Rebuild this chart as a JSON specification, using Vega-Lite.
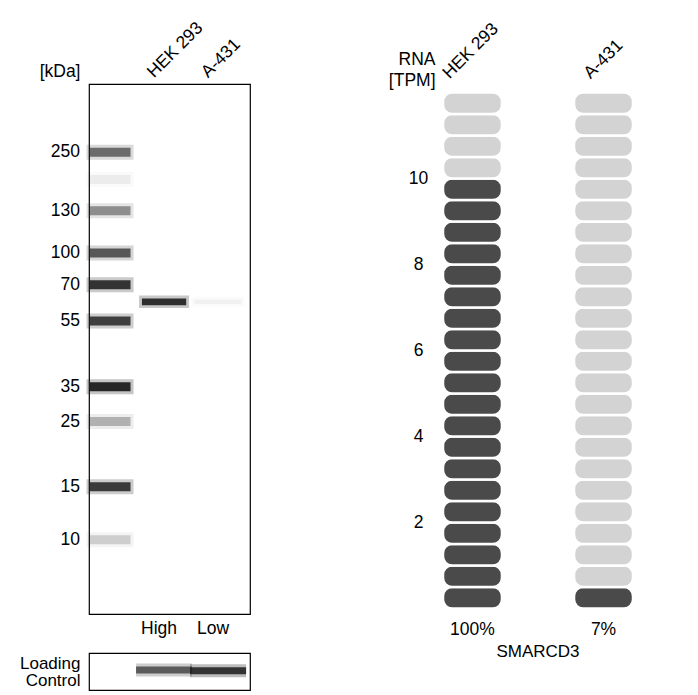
{
  "$schema": "https://vega.github.io/schema/vega-lite/v6.json",
  "background": "white",
  "padding": {"left": 18, "top": 17, "right": 5, "bottom": 5},
  "bounds": "flush",
  "spacing": 354,
  "config": {
    "font": "Liberation Sans",
    "view": {"stroke": "black", "strokeWidth": 1},
    "axis": {"labelFont": "Liberation Sans", "titleFont": "Liberation Sans", "labelColor": "black", "titleColor": "black", "grid": false, "domain": false, "ticks": false},
    "text": {"font": "Liberation Sans", "fontSize": 17.5, "color": "black"},
    "title": {"font": "Liberation Sans", "color": "black"}
  },
  "datasets": {
    "blot": [
      {"lane": "Marker", "kDa": "250", "Rf": 0.129, "intensity": 0.62},
      {"lane": "Marker", "kDa": null, "Rf": 0.18, "intensity": 0.06},
      {"lane": "Marker", "kDa": "130", "Rf": 0.239, "intensity": 0.45},
      {"lane": "Marker", "kDa": "100", "Rf": 0.319, "intensity": 0.72},
      {"lane": "Marker", "kDa": "70", "Rf": 0.379, "intensity": 0.92},
      {"lane": "Marker", "kDa": "55", "Rf": 0.447, "intensity": 0.85},
      {"lane": "Marker", "kDa": "35", "Rf": 0.571, "intensity": 1.0},
      {"lane": "Marker", "kDa": "25", "Rf": 0.637, "intensity": 0.3},
      {"lane": "Marker", "kDa": "15", "Rf": 0.76, "intensity": 0.88},
      {"lane": "Marker", "kDa": "10", "Rf": 0.86, "intensity": 0.18},
      {"lane": "HEK 293", "kDa": null, "Rf": 0.411, "intensity": 0.95},
      {"lane": "A-431", "kDa": null, "Rf": 0.411, "intensity": 0.04}
    ],
    "levels": [
      {"lane": "HEK 293", "level": "High"},
      {"lane": "A-431", "level": "Low"}
    ],
    "loading": [
      {"lane": "HEK 293", "pos": 0.46, "intensity": 0.72},
      {"lane": "A-431", "pos": 0.48, "intensity": 0.95}
    ],
    "rna": [
      {"tissue": "HEK 293", "low": 0, "high": 0.5, "level": "filled"},
      {"tissue": "HEK 293", "low": 0.5, "high": 1, "level": "filled"},
      {"tissue": "HEK 293", "low": 1, "high": 1.5, "level": "filled"},
      {"tissue": "HEK 293", "low": 1.5, "high": 2, "level": "filled"},
      {"tissue": "HEK 293", "low": 2, "high": 2.5, "level": "filled"},
      {"tissue": "HEK 293", "low": 2.5, "high": 3, "level": "filled"},
      {"tissue": "HEK 293", "low": 3, "high": 3.5, "level": "filled"},
      {"tissue": "HEK 293", "low": 3.5, "high": 4, "level": "filled"},
      {"tissue": "HEK 293", "low": 4, "high": 4.5, "level": "filled"},
      {"tissue": "HEK 293", "low": 4.5, "high": 5, "level": "filled"},
      {"tissue": "HEK 293", "low": 5, "high": 5.5, "level": "filled"},
      {"tissue": "HEK 293", "low": 5.5, "high": 6, "level": "filled"},
      {"tissue": "HEK 293", "low": 6, "high": 6.5, "level": "filled"},
      {"tissue": "HEK 293", "low": 6.5, "high": 7, "level": "filled"},
      {"tissue": "HEK 293", "low": 7, "high": 7.5, "level": "filled"},
      {"tissue": "HEK 293", "low": 7.5, "high": 8, "level": "filled"},
      {"tissue": "HEK 293", "low": 8, "high": 8.5, "level": "filled"},
      {"tissue": "HEK 293", "low": 8.5, "high": 9, "level": "filled"},
      {"tissue": "HEK 293", "low": 9, "high": 9.5, "level": "filled"},
      {"tissue": "HEK 293", "low": 9.5, "high": 10, "level": "filled"},
      {"tissue": "HEK 293", "low": 10, "high": 10.5, "level": "empty"},
      {"tissue": "HEK 293", "low": 10.5, "high": 11, "level": "empty"},
      {"tissue": "HEK 293", "low": 11, "high": 11.5, "level": "empty"},
      {"tissue": "HEK 293", "low": 11.5, "high": 12, "level": "empty"},
      {"tissue": "A-431", "low": 0, "high": 0.5, "level": "filled"},
      {"tissue": "A-431", "low": 0.5, "high": 1, "level": "empty"},
      {"tissue": "A-431", "low": 1, "high": 1.5, "level": "empty"},
      {"tissue": "A-431", "low": 1.5, "high": 2, "level": "empty"},
      {"tissue": "A-431", "low": 2, "high": 2.5, "level": "empty"},
      {"tissue": "A-431", "low": 2.5, "high": 3, "level": "empty"},
      {"tissue": "A-431", "low": 3, "high": 3.5, "level": "empty"},
      {"tissue": "A-431", "low": 3.5, "high": 4, "level": "empty"},
      {"tissue": "A-431", "low": 4, "high": 4.5, "level": "empty"},
      {"tissue": "A-431", "low": 4.5, "high": 5, "level": "empty"},
      {"tissue": "A-431", "low": 5, "high": 5.5, "level": "empty"},
      {"tissue": "A-431", "low": 5.5, "high": 6, "level": "empty"},
      {"tissue": "A-431", "low": 6, "high": 6.5, "level": "empty"},
      {"tissue": "A-431", "low": 6.5, "high": 7, "level": "empty"},
      {"tissue": "A-431", "low": 7, "high": 7.5, "level": "empty"},
      {"tissue": "A-431", "low": 7.5, "high": 8, "level": "empty"},
      {"tissue": "A-431", "low": 8, "high": 8.5, "level": "empty"},
      {"tissue": "A-431", "low": 8.5, "high": 9, "level": "empty"},
      {"tissue": "A-431", "low": 9, "high": 9.5, "level": "empty"},
      {"tissue": "A-431", "low": 9.5, "high": 10, "level": "empty"},
      {"tissue": "A-431", "low": 10, "high": 10.5, "level": "empty"},
      {"tissue": "A-431", "low": 10.5, "high": 11, "level": "empty"},
      {"tissue": "A-431", "low": 11, "high": 11.5, "level": "empty"},
      {"tissue": "A-431", "low": 11.5, "high": 12, "level": "empty"}
    ],
    "rna_summary": [
      {"tissue": "HEK 293", "pct": "100%"},
      {"tissue": "A-431", "pct": "7%"}
    ]
  },
  "hconcat": [
    {
      "vconcat": [
        {
          "width": 161,
          "height": 530,
          "view": {"stroke": "black", "strokeWidth": 1.2},
          "resolve": {"scale": {"strokeWidth": "independent", "opacity": "independent"}},
          "layer": [
            {
              "data": {"name": "blot"},
              "mark": {"type": "tick", "thickness": 1, "color": "#1e1e1e", "stroke": "#1e1e1e"},
              "encoding": {
                "x": {"field": "lane", "type": "nominal", "scale": {"domain": ["Marker", "HEK 293", "A-431"], "paddingInner": 0.5, "paddingOuter": 0.24, "align": 0.29},
                  "axis": {"orient": "top", "title": null, "labelAngle": -45, "labelAlign": "left", "labelBaseline": "alphabetic", "labelOffset": -10, "labelPadding": 6, "labelFontSize": 17.5, "labelExpr": "datum.label == 'Marker' ? '' : datum.label"}},
                "y": {"field": "Rf", "type": "quantitative", "scale": {"domain": [0, 1], "reverse": true, "nice": false},
                  "axis": {"labels": false, "title": "[kDa]", "titleAngle": 0, "titleAlign": "right", "titleBaseline": "middle", "titleX": -9, "titleY": -13, "titleFontSize": 17.5, "titleFontWeight": "normal"}},
                "size": {"field": "lane", "type": "ordinal", "scale": {"domain": ["Marker", "HEK 293", "A-431"], "range": [33, 44, 49]}, "legend": null},
                "strokeWidth": {"field": "lane", "type": "ordinal", "scale": {"domain": ["Marker", "HEK 293", "A-431"], "range": [14, 9, 9]}, "legend": null},
                "opacity": {"field": "intensity", "type": "quantitative", "scale": {"domain": [0, 1], "range": [0, 0.25]}, "legend": null}
              }
            },
            {
              "data": {"name": "blot"},
              "mark": {"type": "tick", "thickness": 1, "color": "#1e1e1e", "stroke": "#1e1e1e"},
              "encoding": {
                "x": {"field": "lane", "type": "nominal"},
                "y": {"field": "Rf", "type": "quantitative"},
                "size": {"field": "lane", "type": "ordinal", "scale": {"domain": ["Marker", "HEK 293", "A-431"], "range": [33, 44, 49]}, "legend": null},
                "strokeWidth": {"field": "lane", "type": "ordinal", "scale": {"domain": ["Marker", "HEK 293", "A-431"], "range": [8, 3.5, 3.5]}, "legend": null},
                "opacity": {"field": "intensity", "type": "quantitative", "scale": {"domain": [0, 1], "range": [0, 0.95]}, "legend": null}
              }
            },
            {
              "data": {"name": "blot"},
              "transform": [{"filter": "datum.kDa != null"}],
              "mark": {"type": "text", "align": "right", "baseline": "middle", "dx": -30, "fontSize": 17.5},
              "encoding": {
                "x": {"field": "lane", "type": "nominal"},
                "y": {"field": "Rf", "type": "quantitative"},
                "text": {"field": "kDa"}
              }
            },
            {
              "data": {"name": "levels"},
              "mark": {"type": "text", "align": "center", "baseline": "middle", "dx": -5, "dy": 15, "fontSize": 17.5},
              "encoding": {
                "x": {"field": "lane", "type": "nominal"},
                "y": {"datum": 1, "type": "quantitative"},
                "text": {"field": "level"}
              }
            }
          ]
        },
        {
          "width": 161,
          "height": 37,
          "view": {"stroke": "black", "strokeWidth": 1.2},
          "data": {"name": "loading"},
          "resolve": {"scale": {"strokeWidth": "independent", "opacity": "independent"}},
          "layer": [
            {
              "mark": {"type": "tick", "thickness": 1, "color": "#1e1e1e", "stroke": "#1e1e1e", "strokeWidth": 12},
              "encoding": {
                "x": {"field": "lane", "type": "nominal", "scale": {"domain": ["Marker", "HEK 293", "A-431"], "paddingInner": 0.5, "paddingOuter": 0.24, "align": 0.29}, "axis": null},
                "y": {"field": "pos", "type": "quantitative", "scale": {"domain": [0, 1], "reverse": true, "nice": false},
                  "axis": {"labels": false, "title": ["Loading", "Control"], "titleAngle": 0, "titleAlign": "right", "titleBaseline": "middle", "titleX": -9, "titleY": 10, "titleLineHeight": 17.5, "titleFontSize": 17, "titleFontWeight": "normal"}},
                "size": {"value": 44},
                "opacity": {"field": "intensity", "type": "quantitative", "scale": {"domain": [0, 1], "range": [0, 0.3]}, "legend": null}
              }
            },
            {
              "mark": {"type": "tick", "thickness": 1, "color": "#1e1e1e", "stroke": "#1e1e1e", "strokeWidth": 6},
              "encoding": {
                "x": {"field": "lane", "type": "nominal"},
                "y": {"field": "pos", "type": "quantitative"},
                "size": {"value": 50},
                "opacity": {"field": "intensity", "type": "quantitative", "scale": {"domain": [0, 1], "range": [0, 0.9]}, "legend": null}
              }
            }
          ]
        }
      ],
      "spacing": 39,
      "bounds": "flush"
    },
    {
      "width": 190,
      "height": 524.5,
      "view": {"stroke": null},
      "title": {"text": "SMARCD3", "orient": "bottom", "offset": 6, "fontSize": 17, "fontWeight": "normal", "anchor": "middle"},
      "layer": [
        {
          "data": {"name": "rna"},
          "mark": {"type": "rect", "cornerRadius": 9, "stroke": "white", "strokeWidth": 2.5},
          "encoding": {
            "x": {"field": "tissue", "type": "nominal", "scale": {"domain": ["HEK 293", "A-431"], "paddingInner": 0.55, "paddingOuter": 0},
              "axis": {"orient": "top", "title": null, "labelAngle": -45, "labelAlign": "left", "labelBaseline": "alphabetic", "labelOffset": {"condition": {"test": "datum.value == 'HEK 293'", "value": -23}, "value": -13}, "labelPadding": 5, "labelFontSize": 17.5}},
            "y": {"field": "low", "type": "quantitative", "scale": {"domain": [0, 12.2], "nice": false, "zero": true},
              "axis": {"values": [2, 4, 6, 8, 10], "labelAlign": "center", "labelBaseline": "middle", "labelPadding": 25, "labelFontSize": 17.5,
                "title": ["RNA", "[TPM]"], "titleAngle": 0, "titleAlign": "right", "titleBaseline": "middle", "titleX": -8, "titleY": -25, "titleLineHeight": 21.5, "titleFontSize": 17.5, "titleFontWeight": "normal"}},
            "y2": {"field": "high"},
            "color": {"field": "level", "type": "nominal", "scale": {"domain": ["filled", "empty"], "range": ["#4a4a4a", "#d3d3d3"]}, "legend": null}
          }
        },
        {
          "data": {"name": "rna_summary"},
          "mark": {"type": "text", "align": "center", "baseline": "middle", "dy": 21, "fontSize": 17.5},
          "encoding": {
            "x": {"field": "tissue", "type": "nominal"},
            "y": {"datum": 0, "type": "quantitative"},
            "text": {"field": "pct"}
          }
        }
      ]
    }
  ]
}
